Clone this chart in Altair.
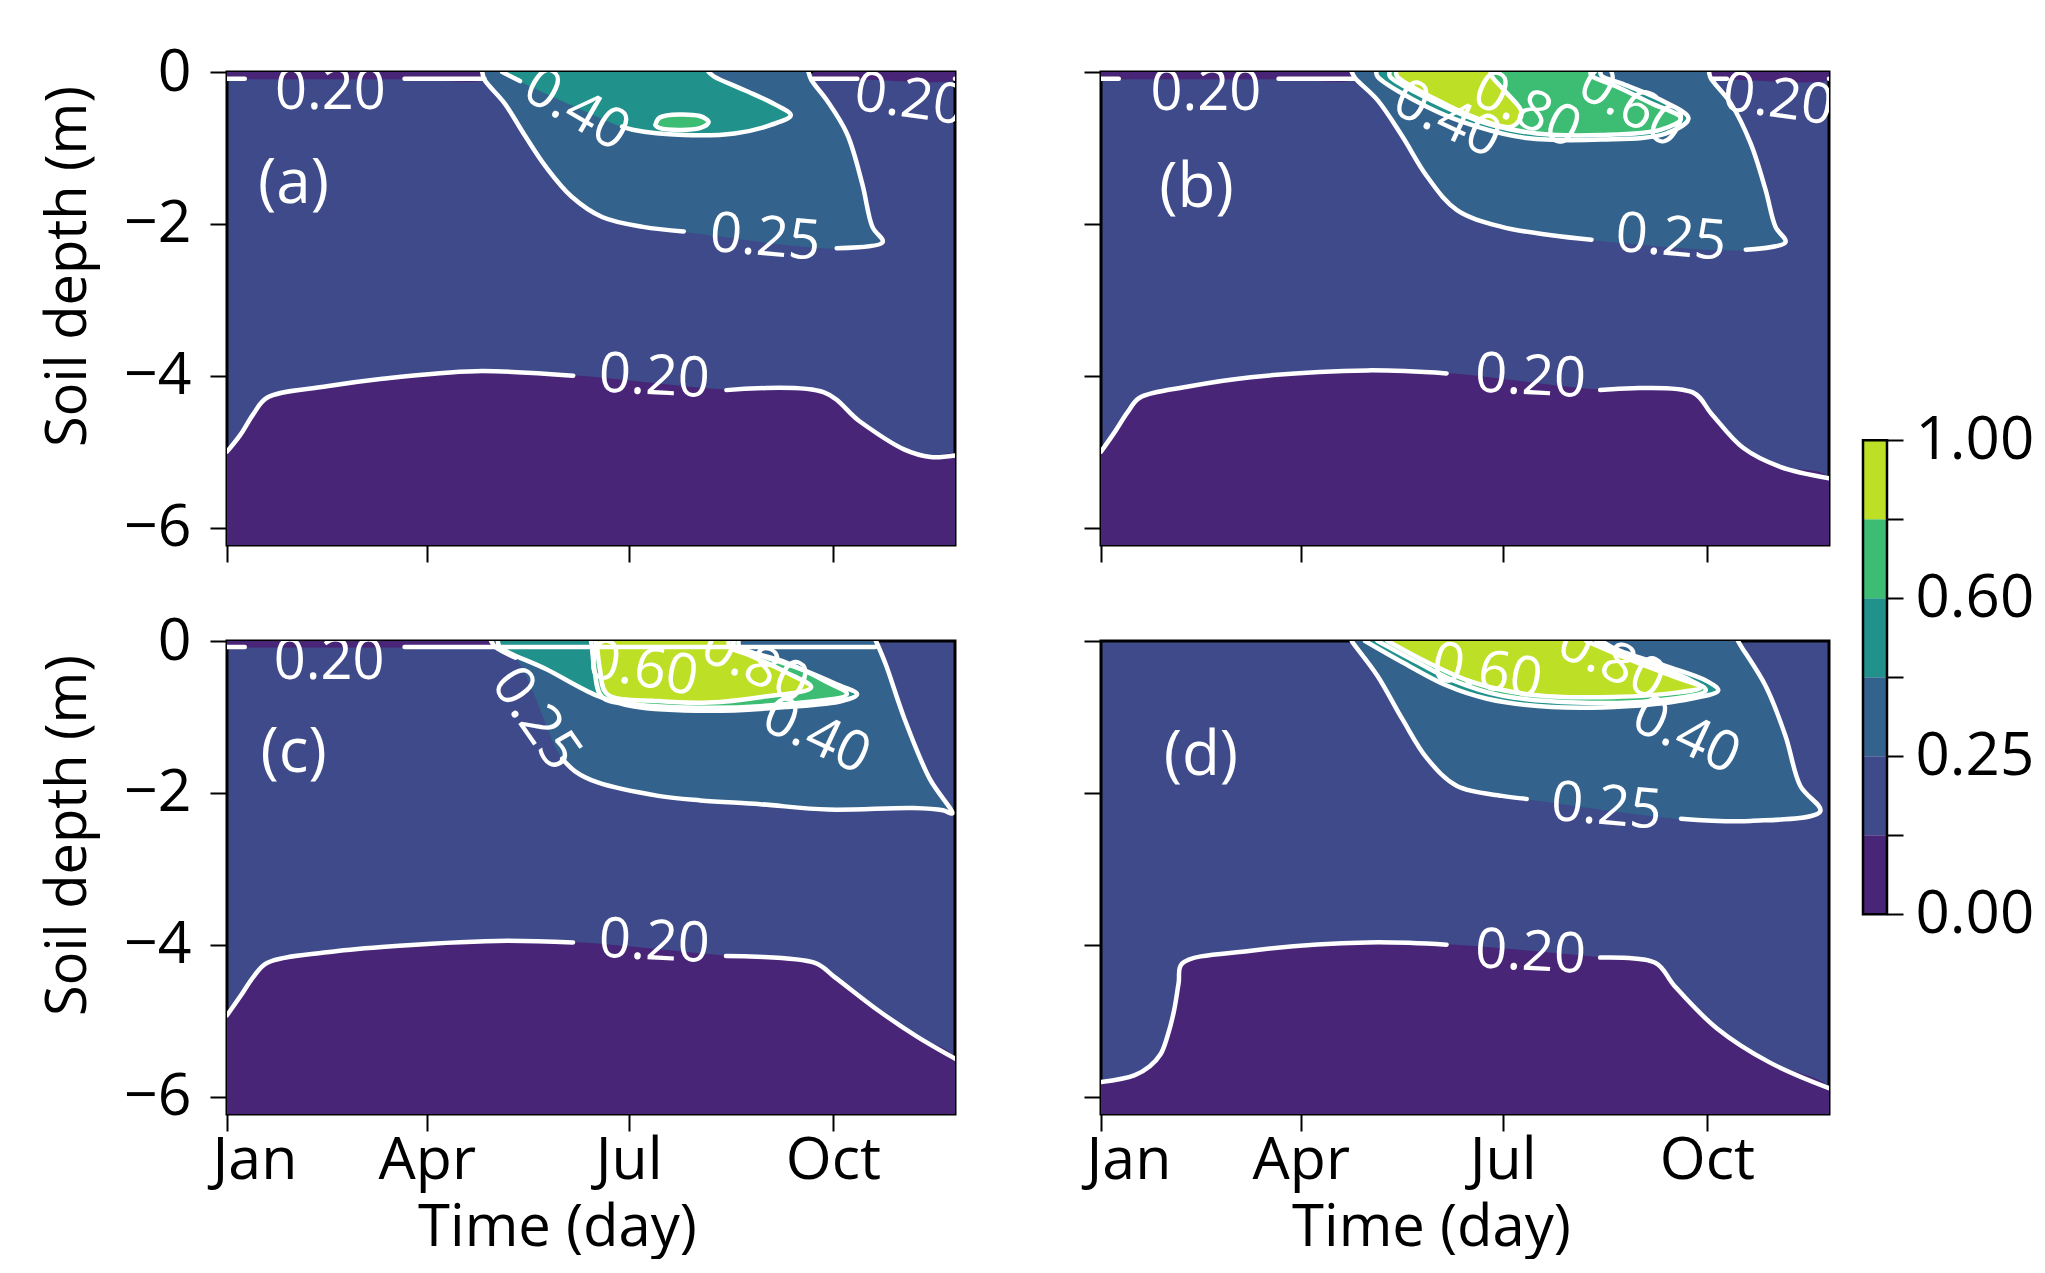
import altair as alt
import pandas as pd

FONT = "Open Sans"

# ---------------- axes / scales ----------------
x_ticks = [0, 90, 181, 273]
x_tick_labels = ["Jan", "Apr", "Jul", "Oct"]
y_ticks = [0, -2, -4, -6]
x_domain = [0, 328]
y_domain = [-6.23, 0]

# ---------------- colour levels ----------------
levels = [0.00, 0.20, 0.25, 0.40, 0.60, 0.80, 1.00]
level_colors = ["#482576", "#3e4a89", "#33638d", "#21918c", "#3dbc74", "#bddf26"]

panel_letters = ["(a)", "(b)", "(c)", "(d)"]
letter_pos = [(30, -1.47), (43, -1.53), (30, -1.47), (45, -1.51)]

# ---------------- contour curves (day, depth); None = label gap ----------------
# panel (a)
a_top_left = [(0, -0.09), (8, -0.09), None, (80, -0.09), (116, -0.09)]
a_top_right = [(264, -0.09), (284, -0.09), None, (328, -0.09)]
a_bottom = [(0, -5.00), (6, -4.78), (12, -4.50), (18, -4.29), (45, -4.14), (70, -4.04),
            (112, -3.94), (156, -4.00), None, (225, -4.19), (269, -4.22), (285, -4.60),
            (305, -4.97), (317, -5.07), (328, -5.05)]
a_025 = [(115, 0), (116, -0.10), (125, -0.41), (134.5, -0.85), (143.7, -1.25), (155.2, -1.64),
         (169, -1.91), (187.4, -2.04), (205.8, -2.10), None, (274.7, -2.32), (295.4, -2.24),
         (290.8, -2.04), (286.2, -1.47), (279.3, -0.81), (270.2, -0.37), (263.2, -0.10), (262, 0)]
a_040 = [(124, 0), (132, -0.12), None, (178, -0.72), (182.8, -0.76), (205.8, -0.83),
         (228.7, -0.81), (244.8, -0.70), (254, -0.57), (247.1, -0.43), (233.3, -0.24),
         (219.5, -0.06), (217, 0)]
a_060 = [(193, -0.70), (195, -0.60), (213, -0.58), (217, -0.66), (213, -0.74), (195, -0.74),
         (193, -0.70)]

# panel (b)
b_top_left = [(0, -0.09), (8, -0.09), None, (80, -0.09), (114, -0.09)]
b_top_right = [(275, -0.09), (282, -0.09), None, (328, -0.09)]
b_bottom = [(0, -5.00), (6, -4.75), (12, -4.48), (17.4, -4.29), (40, -4.14), (67.5, -4.02),
            (119.9, -3.93), (155.7, -3.97), None, (224.9, -4.19), (266.6, -4.22), (275, -4.50),
            (289.3, -4.95), (306, -5.20), (328, -5.35)]
b_025 = [(113, 0), (114.5, -0.08), (124.6, -0.37), (135.8, -0.85), (147, -1.38), (160.4, -1.82),
         (180.6, -2.04), (203, -2.15), (221, -2.21), None, (290.5, -2.34), (308.4, -2.24),
         (303.9, -2.04), (299.4, -1.55), (292.7, -0.94), (283.7, -0.41), (274.7, -0.08), (274, 0)]
b_040 = [(124, 0), (124.6, -0.06), (147, -0.46), (169.4, -0.72), (191.8, -0.87), (225.5, -0.89),
         (254.6, -0.81), (264.7, -0.61), (252.3, -0.37), (234.4, -0.15), (225.5, -0.05), (225, 0)]
b_060 = [(130, 0), (130.2, -0.06), (151.5, -0.41), (173.9, -0.68), (196.3, -0.81), (225.5, -0.83),
         (252.3, -0.76), (261.3, -0.61), (247.8, -0.41), (232.2, -0.19), (221, -0.05), (220.5, 0)]
b_080 = [(133, 0), (133.5, -0.06), (151.5, -0.37), (169.4, -0.61), (185.1, -0.72), (189.6, -0.54),
         (182.9, -0.28), (176.2, -0.06), (175.5, 0)]

# panel (c)
c_top = [(0, -0.08), (8, -0.08), None, (80, -0.08), (292, -0.08)]
c_bottom = [(0, -4.93), (6, -4.68), (12, -4.42), (18, -4.24), (45, -4.10), (69.7, -4.03),
            (121.4, -3.95), (155.9, -3.97), None, (224.8, -4.15), (264.9, -4.24), (273.5, -4.42),
            (293.6, -4.87), (310.9, -5.21), (328, -5.50)]
c_025 = [(119, 0), (121, -0.08), (130, -0.22), None, (151, -1.55), (157, -1.72), (166.7, -1.86),
         (194.3, -2.04), (213.3, -2.10), (240.2, -2.15), (270.8, -2.22), (309.2, -2.20),
         (322.5, -2.23), (326.8, -2.27), (316.7, -1.82), (305.3, -1.03), (296.7, -0.30), (292.4, 0)]
c_040 = [(122, 0), (123, -0.08), (143.7, -0.37), (166.7, -0.72), (182.8, -0.86), (217.2, -0.92),
         (251.7, -0.87), (277, -0.79), (283.9, -0.70), (274.7, -0.57), (258.6, -0.37),
         (240.2, -0.19), (228.7, -0.08), (228, 0)]
c_060 = [(164, 0), (164.4, -0.08), (165.5, -0.37), (169, -0.74), (182.8, -0.83), (217.2, -0.88),
         (251.7, -0.83), (279.3, -0.70), (270.2, -0.54), (251.7, -0.28), (231, -0.08), (230.5, 0)]
c_080 = [(166, 0), (166.7, -0.08), (168, -0.37), (171.3, -0.70), (194.3, -0.79), (217.2, -0.81),
         (240.2, -0.74), (263.2, -0.61), (251.7, -0.41), (235.6, -0.19), (226.5, -0.08), (226, 0)]

# panel (d)
d_bottom = [(0, -5.81), (15, -5.72), (22, -5.60), (26.9, -5.44), (30, -5.20), (32.9, -4.87),
            (35, -4.50), (36.5, -4.25), (67.5, -4.08), (119.9, -3.97), (155.7, -4.00), None,
            (224.9, -4.17), (249.9, -4.24), (258.3, -4.54), (277.4, -5.10), (301.2, -5.55),
            (328, -5.89)]
d_025 = [(113, 0), (113.4, -0.02), (124.6, -0.46), (135.8, -1.03), (147, -1.55), (160.4, -1.91),
         (180.6, -2.04), (191.8, -2.08), None, (261.3, -2.34), (292.7, -2.37), (324.1, -2.24),
         (315.1, -1.91), (308.4, -1.25), (299.4, -0.59), (288.2, -0.06), (287, 0)]
d_040 = [(119, 0), (135.8, -0.28), (156, -0.59), (173.9, -0.76), (203, -0.87), (236.7, -0.86),
         (265.8, -0.76), (278.1, -0.65), (272.5, -0.52), (254.6, -0.33), (232.2, -0.11), (225.5, 0)]
d_060 = [(124.6, 0), (142.5, -0.28), (160.4, -0.54), (180.6, -0.72), (214.2, -0.81), (247.8, -0.79),
         (272.5, -0.65), (265.8, -0.52), (247.8, -0.30), (229.9, -0.11), (223.2, 0)]
d_080 = [(129.1, 0), (147, -0.28), (167.2, -0.54), (191.8, -0.70), (225.5, -0.74), (259.1, -0.68),
         (270.3, -0.61), (259.1, -0.48), (241.1, -0.28), (223.2, -0.06), (218.7, 0)]

# ---------------- contour labels (day, depth, text, angle) ----------------
a_labels = [(46.6, -0.27, "0.20", 0), (307.6, -0.37, "0.20", 8), (157.5, -0.50, "0.40", 30),
            (242.5, -2.19, "0.25", 5), (192.5, -4.02, "0.20", 3)]
b_labels = [(47.3, -0.28, "0.20", 0), (305, -0.37, "0.20", 8), (156, -0.63, "0.40", 25),
            (191.8, -0.50, "0.80", 25), (238.9, -0.46, "0.60", 30), (256.8, -2.19, "0.25", 5),
            (193.5, -4.02, "0.20", 3)]
c_labels = [(46, -0.28, "0.20", 0), (139.1, -1.03, "0.25", 55), (187.4, -0.37, "0.60", 10),
            (237.9, -0.33, "0.80", 25), (265.5, -1.25, "0.40", 25), (192.5, -3.97, "0.20", 3)]
d_labels = [(173.9, -0.41, "0.60", 10), (229.9, -0.28, "0.80", 25), (263.6, -1.25, "0.40", 25),
            (227.7, -2.19, "0.25", 5), (193.5, -4.11, "0.20", 3)]

panels = [
    ([(0, a_top_left, "top"), (0, a_top_right, "top"), (0, a_bottom, "bottom"),
      (2, a_025, None), (3, a_040, None), (4, a_060, None)], a_labels),
    ([(0, b_top_left, "top"), (0, b_top_right, "top"), (0, b_bottom, "bottom"),
      (2, b_025, None), (3, b_040, None), (4, b_060, None), (5, b_080, None)], b_labels),
    ([(0, c_top, "top"), (0, c_bottom, "bottom"), (2, c_025, None), (3, c_040, None),
      (4, c_060, None), (5, c_080, None)], c_labels),
    ([(0, d_bottom, "bottom"), (2, d_025, None), (3, d_040, None), (4, d_060, None),
      (5, d_080, None)], d_labels),
]

PW, PH = 728, 473
LABEL_FS = 59
TITLE_FS = 58
CONTOUR_FS = 56
LETTER_FS = 62
CURVE = "catmull-rom"


def x_label_expr():
    parts = [f"datum.value == {v} ? '{t}'" for v, t in zip(x_ticks, x_tick_labels)]
    return " : ".join(parts) + " : ''"


def build_panel(p, regions, labels, show_x, show_y):
    poly_rows, line_rows = [], []
    for k, (lvl, curve, close) in enumerate(regions):
        pts = [q for q in curve if q is not None]
        if close == "bottom":
            pts = pts + [(x_domain[1], y_domain[0]), (x_domain[0], y_domain[0])]
        elif close == "top":
            pts = pts + [(pts[-1][0], y_domain[1]), (pts[0][0], y_domain[1])]
        for i, (x, y) in enumerate(pts):
            poly_rows.append({"day": x, "depth": y, "i": i, "poly": k})
        seg, j = 0, 0
        for q in curve:
            if q is None:
                seg += 1
                continue
            line_rows.append({"day": q[0], "depth": q[1], "i": j, "seg": f"{k}-{seg}"})
            j += 1
    poly_df = pd.DataFrame(poly_rows)
    line_df = pd.DataFrame(line_rows)
    text_rows = [{"day": x, "depth": y, "text": t, "angle": a, "size": CONTOUR_FS}
                 for x, y, t, a in labels]
    lx, ly = letter_pos[p]
    text_rows.append({"day": lx, "depth": ly, "text": panel_letters[p], "angle": 0, "size": LETTER_FS})
    text_df = pd.DataFrame(text_rows)

    x_axis = alt.Axis(values=x_ticks, labelExpr=x_label_expr(), labels=show_x,
                      title="Time (day)" if show_x else None, grid=False, domain=False,
                      ticks=True, tickSize=17, tickWidth=2, tickColor="black",
                      labelFont=FONT, labelFontSize=LABEL_FS, labelColor="black",
                      labelPadding=0, labelFlush=True, labelFlushOffset=15,
                      titleFont=FONT, titleFontSize=TITLE_FS, titleFontWeight="normal",
                      titleColor="black", titlePadding=9, titleX=330)
    y_axis = alt.Axis(values=y_ticks,
                      labelExpr="datum.value < 0 ? '\u2212' + format(-datum.value, 'd') : format(datum.value, 'd')",
                      labels=show_y, title="Soil depth (m)" if show_y else None, grid=False,
                      domain=False, ticks=True, tickSize=17, tickWidth=2, tickColor="black",
                      labelFont=FONT, labelFontSize=LABEL_FS, labelColor="black", labelPadding=19,
                      titleFont=FONT, titleFontSize=56, titleFontWeight="normal",
                      titleColor="black", titlePadding=26, titleY=194)
    x_enc = alt.X("day:Q", scale=alt.Scale(domain=x_domain, nice=False, zero=False), axis=x_axis)
    y_enc = alt.Y("depth:Q", scale=alt.Scale(domain=y_domain, nice=False, zero=False), axis=y_axis)

    layers = []
    for k, (lvl, curve, close) in enumerate(regions):
        col = level_colors[lvl]
        layers.append(
            alt.Chart(poly_df).transform_filter(alt.datum.poly == k)
            .mark_line(fill=col, stroke=col, strokeWidth=1, clip=True, interpolate=CURVE)
            .encode(x=x_enc, y=y_enc, order=alt.Order("i:Q"))
        )
    layers.append(
        alt.Chart(line_df).mark_line(color="white", strokeWidth=4.5, clip=True, strokeCap="round",
                                     interpolate=CURVE)
        .encode(x=x_enc, y=y_enc, detail="seg:N", order=alt.Order("i:Q"))
    )
    layers.append(
        alt.Chart(text_df).mark_text(color="white", font=FONT, align="center", baseline="middle", clip=True)
        .encode(x=x_enc, y=y_enc, text="text:N", angle=alt.Angle("angle:Q", scale=None),
                size=alt.Size("size:Q", scale=None))
    )
    return alt.layer(*layers).properties(
        width=PW, height=PH,
        view=alt.ViewBackground(fill=level_colors[1], stroke="black", strokeWidth=3),
    )


pa = build_panel(0, panels[0][0], panels[0][1], False, True)
pb = build_panel(1, panels[1][0], panels[1][1], False, False)
pc = build_panel(2, panels[2][0], panels[2][1], True, True)
pd_ = build_panel(3, panels[3][0], panels[3][1], True, False)

# ---------------- colour bar ----------------
cb_df = pd.DataFrame({"lo": list(range(6)), "hi": list(range(1, 7)), "color": level_colors})
cb_border = pd.DataFrame({"lo": [0], "hi": [6]})
cb_domain = [-2.54, 10.66]
cb_expr = f"datum.value % 2 == 0 ? format({levels}[datum.value], '.2f') : ''"
cb_axis = alt.Axis(orient="right", values=list(range(7)), labelExpr=cb_expr, title=None,
                   grid=False, domain=False, ticks=True, tickSize=16, tickWidth=2, tickColor="black",
                   labelFont=FONT, labelFontSize=60, labelColor="black", labelPadding=12)
cb_y = alt.Y("lo:Q", scale=alt.Scale(domain=cb_domain, nice=False, zero=False), axis=cb_axis)
cbar = alt.layer(
    alt.Chart(cb_df).mark_rect().encode(y=cb_y, y2="hi:Q", color=alt.Color("color:N", scale=None)),
    alt.Chart(cb_border).mark_rect(fillOpacity=0, stroke="black", strokeWidth=2.5).encode(y=cb_y, y2="hi:Q"),
).properties(width=24, height=1043, view=alt.ViewBackground(stroke="transparent"))

top = alt.hconcat(pa, pb, spacing=124)
bottom = alt.hconcat(pc, pd_, spacing=124)
grid = alt.vconcat(top, bottom, spacing=45)
chart = alt.hconcat(grid, cbar, spacing=30).properties(
    padding={"left": 31, "top": 33, "right": 0, "bottom": 0},
    background="white",
)

chart.save("out.html", embed_options={"renderer": "svg", "actions": False})
